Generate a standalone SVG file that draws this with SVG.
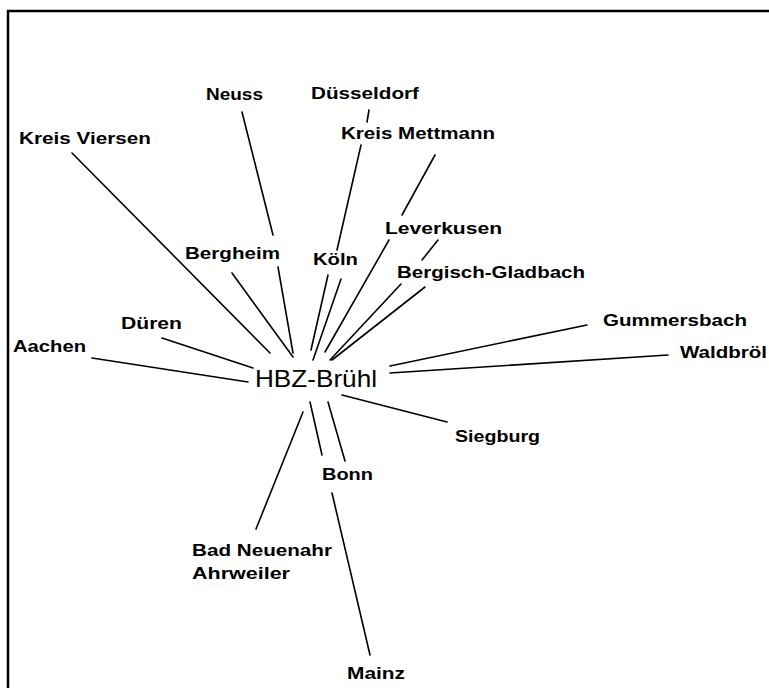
<svg xmlns="http://www.w3.org/2000/svg" width="769" height="688" viewBox="0 0 769 688">
<style>
.lbl{font-family:"Liberation Sans",Arial,sans-serif;font-weight:bold;font-size:17px;fill:#000}
.hub{font-family:"Liberation Sans",Arial,sans-serif;font-size:24px;fill:#000}
.c line{stroke:#000;stroke-width:1.6;stroke-linecap:round}
</style>
<rect width="769" height="688" fill="#fff"/>
<path d="M8,688 V11 H769" fill="none" stroke="#000" stroke-width="2.5"/>
<g id="connectors" class="c">
<line x1="72" y1="153" x2="270" y2="353"/>
<line x1="242" y1="112" x2="273" y2="235"/>
<line x1="278" y1="267" x2="293" y2="353"/>
<line x1="232" y1="273" x2="293" y2="357"/>
<line x1="369" y1="110" x2="367" y2="122"/>
<line x1="361" y1="145" x2="337" y2="250"/>
<line x1="328" y1="275" x2="311" y2="350"/>
<line x1="341" y1="279" x2="313" y2="360"/>
<line x1="435" y1="155" x2="402" y2="215"/>
<line x1="389" y1="240" x2="325" y2="352"/>
<line x1="438" y1="240" x2="422" y2="260"/>
<line x1="401" y1="284" x2="330" y2="360"/>
<line x1="425" y1="287" x2="332" y2="360"/>
<line x1="587" y1="325" x2="390" y2="366"/>
<line x1="668" y1="355" x2="390" y2="373"/>
<line x1="162" y1="338" x2="253" y2="368"/>
<line x1="92" y1="358" x2="248" y2="382"/>
<line x1="342" y1="395" x2="447" y2="422"/>
<line x1="303" y1="412" x2="256" y2="529"/>
<line x1="310" y1="402" x2="322" y2="455"/>
<line x1="328" y1="402" x2="345" y2="461"/>
<line x1="332" y1="493" x2="370" y2="655"/>
</g>
<g id="hbz-bruehl"><text class="hub" x="255" y="387" textLength="122" lengthAdjust="spacingAndGlyphs">HBZ-Brühl</text></g>
<g id="neuss"><text class="lbl" x="206" y="100" textLength="57" lengthAdjust="spacingAndGlyphs">Neuss</text></g>
<g id="duesseldorf"><text class="lbl" x="311" y="99" textLength="108" lengthAdjust="spacingAndGlyphs">Düsseldorf</text></g>
<g id="kreis-viersen"><text class="lbl" x="19" y="144" textLength="132" lengthAdjust="spacingAndGlyphs">Kreis Viersen</text></g>
<g id="kreis-mettmann"><text class="lbl" x="341" y="139" textLength="154" lengthAdjust="spacingAndGlyphs">Kreis Mettmann</text></g>
<g id="leverkusen"><text class="lbl" x="385" y="234" textLength="117" lengthAdjust="spacingAndGlyphs">Leverkusen</text></g>
<g id="bergheim"><text class="lbl" x="185" y="259" textLength="95" lengthAdjust="spacingAndGlyphs">Bergheim</text></g>
<g id="koeln"><text class="lbl" x="313" y="265" textLength="45" lengthAdjust="spacingAndGlyphs">Köln</text></g>
<g id="bergisch-gladbach"><text class="lbl" x="397" y="278" textLength="188" lengthAdjust="spacingAndGlyphs">Bergisch-Gladbach</text></g>
<g id="gummersbach"><text class="lbl" x="603" y="326" textLength="144" lengthAdjust="spacingAndGlyphs">Gummersbach</text></g>
<g id="waldbroel"><text class="lbl" x="680" y="358" textLength="87" lengthAdjust="spacingAndGlyphs">Waldbröl</text></g>
<g id="dueren"><text class="lbl" x="121" y="329" textLength="61" lengthAdjust="spacingAndGlyphs">Düren</text></g>
<g id="aachen"><text class="lbl" x="13" y="352" textLength="73" lengthAdjust="spacingAndGlyphs">Aachen</text></g>
<g id="siegburg"><text class="lbl" x="455" y="442" textLength="85" lengthAdjust="spacingAndGlyphs">Siegburg</text></g>
<g id="bonn"><text class="lbl" x="322" y="480" textLength="51" lengthAdjust="spacingAndGlyphs">Bonn</text></g>
<g id="bad-neuenahr-ahrweiler"><text class="lbl" x="192" y="556" textLength="140" lengthAdjust="spacingAndGlyphs">Bad Neuenahr</text><text class="lbl" x="192" y="579" textLength="98" lengthAdjust="spacingAndGlyphs">Ahrweiler</text></g>
<g id="mainz"><text class="lbl" x="347" y="679" textLength="58" lengthAdjust="spacingAndGlyphs">Mainz</text></g>
</svg>
